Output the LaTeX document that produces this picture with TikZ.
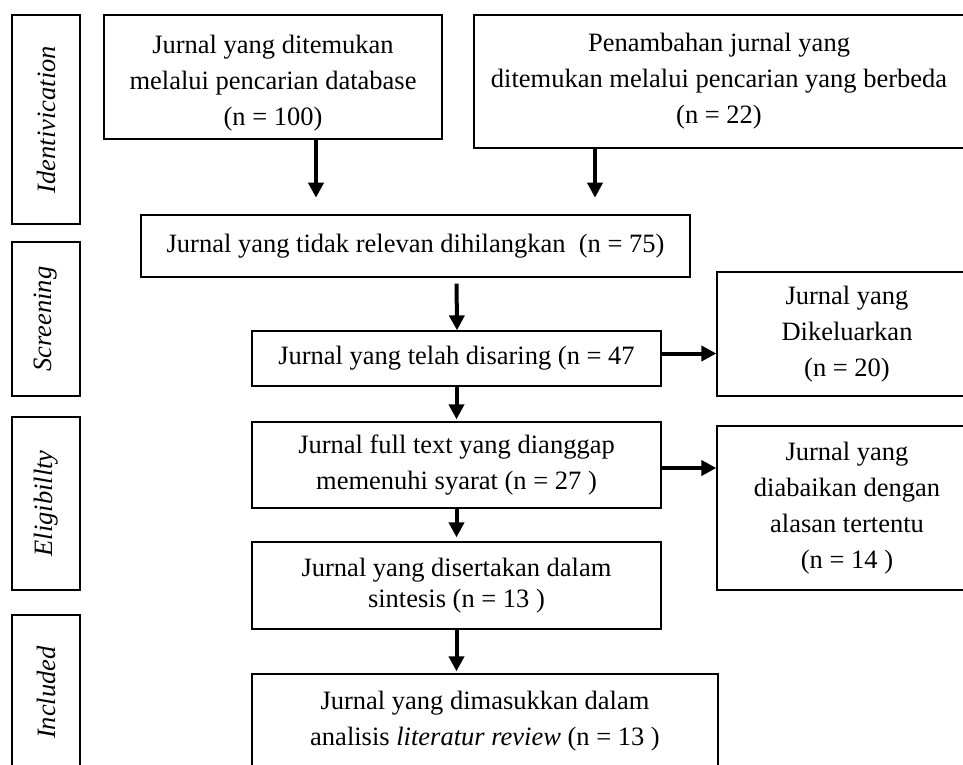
\documentclass[tikz,border=0pt]{standalone}
\usepackage{fontspec}
\setmainfont{Liberation Serif}
\usepackage{tikz}
\usetikzlibrary{positioning, arrows.meta, calc}
\tikzset{
    box/.style={draw=black, line width=1.3pt, inner sep=0pt, align=center, font=\fontsize{26.5}{36}\selectfont},
    phasebox/.style={box, rotate=90, minimum height=68pt, font=\fontsize{26.5}{35}\selectfont\itshape},
    flow/.style={line width=4pt, -{Triangle[length=15pt, width=15pt]}}
}

\begin{document}
\begin{tikzpicture}[x=1pt, y=-1pt]
                \useasboundingbox (0,0) rectangle (963,764);
                \clip (0,0) rectangle (963,764);
                \fill[white] (0,0) rectangle (963,764);
                % Phase labels
                \node[phasebox, minimum width=209pt] (identivication) at (46,119.5) {Identivication};
                \node[phasebox, minimum width=154pt] (screening) at (46,319) {Screening};
                \node[phasebox, minimum width=173pt] (eligibillty) at (46,503.5) {Eligibillty};
                \node[phasebox, minimum width=155pt] (included) at (46,692.5) {Included};
                
                % Identification
                \node[box, minimum width=338pt, minimum height=124pt] (database) at (273,77) {\rule{0pt}{30pt}Jurnal yang ditemukan\\melalui pencarian database\\(n = 100)};
                \node[box, minimum width=490pt, minimum height=133pt] (tambahan) at (719,81.5) {Penambahan jurnal yang\\ditemukan melalui pencarian yang berbeda\\(n = 22)};
                
                % Screening
                \node[box, minimum width=549pt, minimum height=62pt] (relevan) at (415.5,246) {Jurnal yang tidak relevan dihilangkan\ \ (n = 75)};
                \node[box, minimum width=409pt, minimum height=55pt] (disaring) at (456.5,358.5) {Jurnal yang telah disaring (n = 47};
                \node[box, minimum width=260pt, minimum height=124pt] (dikeluarkan) at (847,334) {Jurnal yang\\Dikeluarkan\\(n = 20)};
                
                % Eligibility
                \node[box, minimum width=409pt, minimum height=86pt] (fulltext) at (456.5,465) {Jurnal full text yang dianggap\\memenuhi syarat (n = 27 )};
                \node[box, minimum width=260pt, minimum height=164pt] (diabaikan) at (847,508) {Jurnal yang\\diabaikan dengan\\alasan tertentu\\(n = 14 )};
                \node[box, minimum width=409pt, minimum height=87pt, font=\fontsize{26.5}{31}\selectfont] (sintesis) at (456.5,585.5) {Jurnal yang disertakan dalam\\sintesis (n = 13 )};
                
                % Included
                \node[box, minimum width=466pt, minimum height=94pt] (analisis) at (485,721) {Jurnal yang dimasukkan dalam\\analisis \textit{literatur review} (n = 13 )};
                
                % Arrows
                \draw[flow] ([xshift=43pt]database.south) -- ++(0,58);
                \draw[flow] ([xshift=-124pt]tambahan.south) -- ++(0,49);
                \draw[flow, shorten <=6pt] ([xshift=41pt]relevan.south) -- ([xshift=0.5pt]disaring.north);
                \draw[flow, shorten >=2pt] (disaring.south) -- (fulltext.north);
                \draw[flow, shorten >=4pt] (fulltext.south) -- (sintesis.north);
                \draw[flow, shorten >=2pt] (sintesis.south) -- (sintesis.south |- analisis.north);
                \draw[flow] ([yshift=5pt]disaring.east) -- ([yshift=5pt]disaring.east -| dikeluarkan.west);
                \draw[flow] ([yshift=-3pt]fulltext.east) -- ([yshift=-3pt]fulltext.east -| diabaikan.west);
            \end{tikzpicture}
\end{document}
